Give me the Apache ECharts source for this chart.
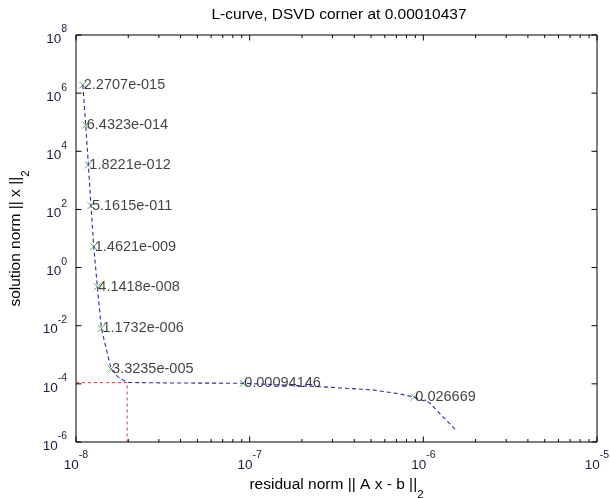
<!DOCTYPE html>
<html>
<head>
<meta charset="utf-8">
<script src="https://cdn.jsdelivr.net/npm/echarts@6/dist/echarts.min.js"></script>
<style>
html,body{margin:0;padding:0;background:#fff;}
#chart{width:610px;height:498px;}
</style>
</head>
<body>
<div id="chart"></div>
<script>
// ---- data ----
const lambdaLabels = ['2.2707e-015','6.4323e-014','1.8221e-012','5.1615e-011','1.4621e-009','4.1418e-008','1.1732e-006','3.3235e-005','0.00094146','0.026669'];
const markerResidual = [1.094e-8,1.138e-8,1.178e-8,1.219e-8,1.265e-8,1.327e-8,1.400e-8,1.592e-8,9.18e-8,8.87e-7];
const markerSolution = [1.905e6,7.94e4,3.39e3,134.9,5.25,0.219,8.13e-3,3.24e-4,1.05e-4,3.47e-5];
const curveResidual = [1.094e-8,1.138e-8,1.178e-8,1.219e-8,1.265e-8,1.327e-8,1.400e-8,1.592e-8,1.746e-8,1.97e-8,3.48e-8,9.18e-8,2.64e-7,5.13e-7,7.33e-7,8.87e-7,1.09e-6,1.30e-6,1.56e-6];
const curveSolution = [1.905e6,7.94e4,3.39e3,134.9,5.25,0.219,8.13e-3,3.24e-4,1.74e-4,1.12e-4,1.07e-4,1.05e-4,7.9e-5,6.2e-5,4.5e-5,3.47e-5,2.19e-5,7.2e-6,2.4e-6];
const cornerResidual = 1.97e-8;
const cornerSolution = 1.1e-4;
const cornerLambda = '0.00010437';
const xMin = 1e-8, xMax = 1e-5;
const yMin = 1e-6, yMax = 1e8;
const xMajorTicks = [1e-8,1e-7,1e-6,1e-5];
const xMinorTicks = [];
[1e-8,1e-7,1e-6].forEach(function(d){ for (let k=2;k<=9;k++) xMinorTicks.push(k*d); });
const yMajorTicks = [1e-6,1e-4,1e-2,1e0,1e2,1e4,1e6,1e8];

// ---- chart ----
const chart = echarts.init(document.getElementById('chart'));
const FONT = 'Liberation Sans, Arial, sans-serif';
const tickColor = '#000';

function expLabel(v){
  const e = Math.round(Math.log10(v));
  return '{b|10}{s|' + e + '}';
}
const richSup = {
  b: {fontSize: 13.5, fontFamily: FONT, color: '#1c1c3c', verticalAlign: 'bottom', lineHeight: 22},
  s: {fontSize: 10.5, fontFamily: FONT, color: '#1c1c3c', verticalAlign: 'top', lineHeight: 22}
};
const richName = {
  a: {fontSize: 15.5, fontFamily: FONT, color: '#000', verticalAlign: 'top', lineHeight: 24},
  sub: {fontSize: 11.5, fontFamily: FONT, color: '#000', verticalAlign: 'bottom', lineHeight: 24}
};

function tickRenderer(axis){
  return function(params, api){
    const v = api.value(axis === 'x' ? 0 : 1);
    const len = api.value(2);
    let a, b;
    if (axis === 'x'){
      a = api.coord([v, yMin]); b = api.coord([v, yMax]);
      return {type:'group', children:[
        {type:'line', shape:{x1:a[0],y1:a[1],x2:a[0],y2:a[1]-len}, style:{stroke:tickColor,lineWidth:1}},
        {type:'line', shape:{x1:b[0],y1:b[1],x2:b[0],y2:b[1]+len}, style:{stroke:tickColor,lineWidth:1}}
      ]};
    } else {
      a = api.coord([xMin, v]); b = api.coord([xMax, v]);
      return {type:'group', children:[
        {type:'line', shape:{x1:a[0],y1:a[1],x2:a[0]+len,y2:a[1]}, style:{stroke:tickColor,lineWidth:1}},
        {type:'line', shape:{x1:b[0],y1:b[1],x2:b[0]-len,y2:b[1]}, style:{stroke:tickColor,lineWidth:1}}
      ]};
    }
  };
}

const xTickData = xMajorTicks.map(function(v){return [v, yMin, 5.5];}).concat(xMinorTicks.map(function(v){return [v, yMin, 3];}));
const yTickData = yMajorTicks.map(function(v){return [xMin, v, 5.5];});

const option = {
  animation: false,
  backgroundColor: '#fff',
  title: {
    text: 'L-curve, DSVD corner at ' + cornerLambda,
    left: 334, top: 2, textAlign: 'center',
    textStyle: {fontFamily: FONT, fontSize: 15.5, fontWeight: 'normal', color: '#000'}
  },
  grid: {left: 76, right: 13, top: 35, bottom: 56, containLabel: false, outerBoundsMode: 'none',
    show: true, borderColor: '#000', borderWidth: 1, backgroundColor: '#fff'},
  xAxis: {
    type: 'log', logBase: 10, min: xMin, max: xMax,
    name: '{a|residual norm || A x - b ||}{sub|2}',
    nameLocation: 'middle', nameGap: 27,
    nameTextStyle: {rich: richName},
    axisLine: {show: false}, axisTick: {show: false}, splitLine: {show: false},
    axisLabel: {margin: 8, formatter: expLabel, rich: richSup}
  },
  yAxis: {
    type: 'log', logBase: 10, min: yMin, max: yMax, interval: 2,
    name: '{a|solution norm || x ||}{sub|2}',
    nameLocation: 'middle', nameGap: 36, nameRotate: 90,
    nameTextStyle: {rich: richName},
    axisLine: {show: false}, axisTick: {show: false}, splitLine: {show: false},
    axisLabel: {margin: 9, showMinLabel: true, showMaxLabel: true, formatter: function(v){
      const e = Math.round(Math.log10(v));
      return (e % 2 === 0) ? expLabel(v) : '';
    }, rich: richSup}
  },
  series: [
    {
      type: 'line', name: 'corner', silent: true, symbol: 'none',
      data: [[xMin, cornerSolution],[cornerResidual, cornerSolution],[cornerResidual, yMin]],
      lineStyle: {color: '#e0303a', width: 1, type: [3,3]}
    },
    {
      type: 'line', name: 'curve', silent: true, symbol: 'none',
      data: curveResidual.map(function(x,i){return [x, curveSolution[i]];}),
      lineStyle: {color: '#2a2aa8', width: 1.1, type: [4,3]}
    },
    {
      type: 'scatter', name: 'markers', silent: true,
      symbol: 'path://M0,0L10,10M10,0L0,10', symbolSize: 7,
      itemStyle: {color: 'rgba(0,0,0,0)', borderColor: '#2e9a2e', borderWidth: 1},
      data: markerResidual.map(function(x,i){return [x, markerSolution[i], lambdaLabels[i]];}),
      label: {show: true, position: 'right', distance: -3, formatter: function(p){return p.value[2];},
        fontFamily: FONT, fontSize: 14.5, color: '#111'}
    },
    {
      type: 'custom', silent: true, clip: false, renderItem: tickRenderer('x'), data: xTickData, z: 10
    },
    {
      type: 'custom', silent: true, clip: false, renderItem: tickRenderer('y'), data: yTickData, z: 10
    }
  ]
};
chart.setOption(option);
</script>
</body>
</html>
